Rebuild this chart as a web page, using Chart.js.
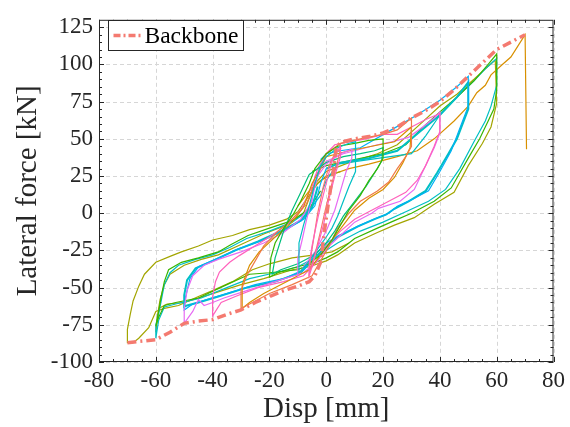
<!DOCTYPE html>
<html>
<head>
<meta charset="utf-8">
<script src="https://cdn.jsdelivr.net/npm/chart.js@4.4.0/dist/chart.umd.min.js"></script>
<style>
  body { margin: 0; background: #fff; }
  canvas { display: block; }
</style>
</head>
<body>
<canvas id="hyst" width="570" height="427"></canvas>
<script>
// Backbone curve (envelope) [disp mm, force kN]
const backbone = [[-70,-87],[-60,-85],[-55,-80],[-50,-74],[-45,-72.5],[-40,-71.5],[-35,-68],[-30,-65],[-25,-60],[-20,-56],[-15,-52],[-10,-49],[-6,-46],[-4,-42],[-2,-33],[-0.5,-10],[1,10],[2.3,26],[3.5,44],[5,47.5],[10,50],[15,51.5],[20,54],[25,58],[30,64],[35,69],[40,75],[45,83],[50,92],[55,101],[60,110],[65,115],[70,120]];

// Hysteresis cycles, by amplitude
const cyc5a = [[-2,5],[0,20],[2,35],[4,42],[5,45],[5,38],[3,25],[1,10],[-1,-8],[-3,-22],[-5,-36],[-6,-42],[-6,-34],[-5,-22],[-3.5,-8],[-2,5]];
const cyc5b = [[-3,0],[-1,18],[1,32],[3,40],[5,43],[4,35],[2,20],[0,5],[-2,-12],[-4,-28],[-6,-40],[-5.5,-30],[-4.5,-18],[-3,0]];
const cyc10a = [[-4,20],[-2,32],[0,38],[4,44],[8,47],[10.3,48],[10.3,28],[8,18],[6,8],[4,-2],[2,-10],[0,-16],[-3,-24],[-6,-32],[-9,-39],[-9.6,-40],[-9.6,-20],[-8,-8],[-6,5],[-4,20]];
const cyc10b = [[-5,10],[-3,25],[0,33],[5,40],[9,43],[9,37],[7,28],[5,15],[3,2],[0,-12],[-4,-26],[-8,-36],[-10,-42],[-10,-30],[-8.5,-18],[-7,-5],[-5,10]];
const cyc20a = [[-6,20],[-4,30],[0,40],[4,45],[10,47],[15,49],[20,50],[20,37],[18,30],[15,22],[12,12],[8,2],[5,-8],[2,-18],[-2,-28],[-6,-34],[-12,-37],[-17,-40],[-20,-43],[-19.5,-30],[-18,-20],[-15,-10],[-12,-2],[-9,8],[-6,20]];
const cyc20b = [[-6,26],[-3,30],[0,34],[6,38],[12,40],[17,42],[20,44],[19.5,35],[17,27],[14,18],[10,8],[6,-2],[3,-12],[0,-20],[-4,-28],[-10,-34],[-16,-38],[-19,-41],[-18,-30],[-15,-12],[-12,2],[-9,14],[-6,26]];
const cyc30a = [[-3,25],[0,40],[5,47],[12,50],[20,53],[25,56],[30,64],[30,45],[28,38],[25,30],[22,21],[18,15],[12,8],[8,0],[4,-10],[1,-22],[-2,-32],[-5,-42],[-12,-48],[-20,-54],[-26,-60],[-30,-64],[-30,-52],[-28,-42],[-25,-32],[-22,-22],[-17,-12],[-12,-4],[-7,6],[-3,25]];
const cyc30b = [[-5,20],[-2,30],[0,38],[8,42],[16,45],[24,48],[30,58],[29.5,44],[27,34],[24,24],[20,16],[15,10],[10,2],[6,-8],[2,-18],[-2,-28],[-6,-38],[-14,-46],[-22,-54],[-27,-60],[-29.6,-64],[-29.6,-48],[-27,-35],[-23.6,-26],[-18,-16],[-12,-6],[-8,4],[-5,20]];
const cyc40a = [[-3,30],[0,40],[3,46],[8,48],[14,50],[20,53],[25,53],[30,58],[35,63],[40,67],[40,55],[38,45],[35,32],[32,22],[28,14],[22,8],[16,2],[10,-4],[5,-12],[0,-22],[-4,-34],[-8,-42],[-15,-46],[-24,-50],[-32,-56],[-37,-60],[-40,-69],[-40,-56],[-39,-46],[-37.6,-39.5],[-34,-33],[-30.6,-28.5],[-26,-23],[-20,-16],[-14,-8],[-9,2],[-5,18],[-3,30]];
const cyc40b = [[-4,25],[0,35],[6,40],[12,43],[18,46],[23,48],[29,51],[34,58],[38,64],[40,68],[40,54],[38,44],[35,32],[31,16],[26,8],[18.4,3.3],[16,0],[10,-6],[4.4,-16],[0,-24],[-3,-32],[-8,-40],[-18,-46],[-28,-52],[-36,-57],[-40,-60],[-43,-62],[-45,-58],[-47,-66],[-50,-74],[-50,-64],[-49,-52],[-47,-42],[-43,-35],[-38,-31],[-30,-26],[-22,-20],[-15,-13],[-9,-4],[-5,8],[-4,25]];
const cyc50a = [[-2,36],[0,40],[5,42],[12,44],[22,55],[32,66],[40,76],[46,85],[50,92],[50,72],[48,62],[46,52],[44,42],[40,28],[36,15],[30,9],[25,4.6],[22,0],[18,-3],[12,-8],[4.4,-15],[0,-20],[-4,-28],[-8,-38],[-15,-44],[-25,-48],[-35,-54],[-42,-58],[-47,-61],[-50,-65],[-49.6,-57],[-48,-44],[-45,-36],[-39,-31],[-31,-24],[-22,-18],[-14,-11],[-8,-4],[-4,5],[-2,20],[0,30]];
const cyc50b = [[0,30],[5,34],[15,37],[25,42],[33,55],[40,66],[46,78],[50,88],[50,70],[48,60],[46,50],[43,40],[39,27],[35,15],[29,8],[24,3],[21,-1],[17,-4],[11,-9],[4,-16],[0,-22],[-4,-30],[-9,-40],[-18,-46],[-28,-50],[-38,-56],[-45,-60],[-49,-62],[-50,-63],[-50,-55],[-49,-45],[-46,-37],[-40,-32],[-32,-25],[-24,-19],[-16,-12],[-9,-5],[-5,4],[-3,18]];
const cyc60a = [[-5,28],[0,32],[10,36],[20,40],[28,46],[33,56],[40,68],[46,78],[52,89],[57,100],[60,107],[60,83],[59,70],[57,62],[54,50],[50,37],[44,17],[38,8],[30,0],[24,-5],[18,-10],[10,-17],[4,-26],[0,-30],[-5,-34],[-10,-38],[-20,-40],[-27,-41],[-35,-48],[-45,-57],[-53,-60],[-57,-62],[-59,-70],[-60,-76],[-59,-66],[-58,-55],[-57,-46],[-55.5,-38],[-51,-33],[-45,-30],[-38,-26],[-33.5,-21],[-27.5,-15],[-20,-10],[-12,-5],[-6,3],[-2,15]];
const cyc60b = [[-2,12],[0,22],[4,33],[15,36],[30,40],[35,52],[40,66],[45,76],[52,89],[56,97],[60,104],[60,86],[58,72],[56,62],[52,48],[47,30],[42,16],[36,8],[28,1],[20,-6],[12,-12],[4,-20],[-4,-30],[-10,-36],[-18,-40],[-27,-44],[-35,-50],[-44,-57],[-53,-61],[-57,-63],[-59,-72],[-60,-84],[-60,-75],[-59,-68],[-58,-58],[-57,-48],[-55,-40],[-52,-35],[-46,-31],[-40,-28],[-34,-23],[-28,-17],[-20,-12],[-12,-6],[-6,2],[-2,12]];
const cyc60c = [[-4,20],[0,28],[8,34],[18,40],[25,46],[32,58],[40,72],[46,80],[52,90],[56,97],[59.5,103],[60,74],[58,58],[55,47],[50,32],[45,14],[38,6],[31,-3],[24,-8],[18,-13],[10,-20],[4,-28],[0,-32],[-6,-36],[-12,-38],[-22,-44],[-30,-48],[-40,-54],[-50,-60],[-56,-61],[-59,-64],[-60,-80],[-59.5,-70],[-58.5,-58],[-57,-48],[-55,-41],[-50,-35],[-44,-31],[-38,-28],[-30,-21],[-22,-14],[-14,-8],[-8,0],[-4,20]];
const cyc70a = [[8,-20],[2,-26],[-4,-28],[-12,-30],[-20,-34],[-26,-38],[-33,-46],[-40,-52],[-45,-56],[-52,-62],[-57,-64],[-60,-66],[-62.5,-77],[-66,-84],[-68,-87],[-70,-87],[-70,-78],[-69,-68],[-68,-59],[-66,-49],[-64,-41],[-60,-33],[-55,-29],[-51,-26],[-45,-22],[-40,-18],[-33,-15],[-27,-11],[-20,-8],[-14,-4],[-10,1],[-6,12],[-3,20],[0,25],[5,28]];
const cyc70b = [[-10,5],[-6,15],[-2,22],[2,26],[8,30],[15,33],[25,38],[32,42],[38,50],[45,62],[50,72],[53,81],[56,86],[58,93],[62,100],[65,105],[68,114],[70,120],[70.5,43]];

const cycles = [
  { data: cyc5a, color: "#FF62BC" },
  { data: cyc5b, color: "#F8766D" },
  { data: cyc10a, color: "#00BFC4" },
  { data: cyc10b, color: "#E76BF3" },
  { data: cyc20a, color: "#39B600" },
  { data: cyc20b, color: "#00BF7D" },
  { data: cyc30a, color: "#F07A45" },
  { data: cyc30b, color: "#D89000" },
  { data: cyc40a, color: "#FF62BC" },
  { data: cyc40b, color: "#E76BF3" },
  { data: cyc50a, color: "#00B0F6" },
  { data: cyc50b, color: "#00BFC4", width: 2 },
  { data: cyc60a, color: "#39B600" },
  { data: cyc60b, color: "#00BFC4" },
  { data: cyc60c, color: "#A3A500" },
  { data: cyc70a, color: "#A3A500" },
  { data: cyc70b, color: "#D89000" },
];

const xTicks = [-80, -60, -40, -20, 0, 20, 40, 60, 80];
const yTicks = [-100, -75, -50, -25, 0, 25, 50, 75, 100, 125];

const FONT = "'Liberation Serif', 'Times New Roman', serif";
const INK = "#262626";

const toXY = (arr) => arr.map((p) => ({ x: p[0], y: p[1] }));

const datasets = [
  {
    label: "Backbone",
    data: toXY(backbone),
    borderColor: "#F47A70",
    borderWidth: 3.5,
    borderDash: [9, 4, 2, 4],
    showLine: true,
    pointRadius: 0,
    tension: 0,
  },
];
cycles.forEach((c, i) => {
  datasets.push({
    label: "cycle " + (i + 1),
    data: toXY(c.data),
    borderColor: c.color,
    borderWidth: c.width || 1.2,
    showLine: true,
    pointRadius: 0,
    tension: 0,
  });
});

// dashed grid under the data
const gridPlugin = {
  id: "dashgrid",
  beforeDatasetsDraw(chart) {
    const { ctx, chartArea: a, scales } = chart;
    ctx.save();
    ctx.strokeStyle = "#d6d6d6";
    ctx.lineWidth = 1;
    ctx.setLineDash([4, 3]);
    ctx.beginPath();
    xTicks.forEach((v) => {
      const px = Math.round(scales.x.getPixelForValue(v)) + 0.5;
      ctx.moveTo(px, a.top); ctx.lineTo(px, a.bottom);
    });
    yTicks.forEach((v) => {
      const py = Math.round(scales.y.getPixelForValue(v)) + 0.5;
      ctx.moveTo(a.left, py); ctx.lineTo(a.right, py);
    });
    ctx.stroke();
    ctx.restore();
  },
};

// axes box with inward major/minor ticks + boxed legend
const framePlugin = {
  id: "frame",
  afterDraw(chart) {
    const { ctx, chartArea: a, scales } = chart;
    const sx = scales.x, sy = scales.y;
    ctx.save();
    ctx.strokeStyle = INK;
    ctx.lineWidth = 1;
    ctx.setLineDash([]);
    ctx.strokeRect(a.left + 0.5, a.top + 0.5, a.right - a.left - 1, a.bottom - a.top - 1);
    ctx.beginPath();
    for (let v = -80; v <= 80; v += 5) {
      const px = Math.round(sx.getPixelForValue(v)) + 0.5;
      const len = v % 20 === 0 ? 5 : 3;
      ctx.moveTo(px, a.bottom); ctx.lineTo(px, a.bottom - len);
      ctx.moveTo(px, a.top); ctx.lineTo(px, a.top + len);
    }
    for (let v = -100; v <= 125; v += 5) {
      const py = Math.round(sy.getPixelForValue(v)) + 0.5;
      const len = v % 25 === 0 ? 5 : 3;
      ctx.moveTo(a.left, py); ctx.lineTo(a.left + len, py);
      ctx.moveTo(a.right, py); ctx.lineTo(a.right - len, py);
    }
    ctx.stroke();

    // legend
    const bx = 108.5, by = 20.5, bw = 135, bh = 30;
    ctx.fillStyle = "#fff";
    ctx.fillRect(bx, by, bw, bh);
    ctx.strokeRect(bx, by, bw, bh);
    const ds = chart.data.datasets[0];
    ctx.strokeStyle = ds.borderColor;
    ctx.lineWidth = ds.borderWidth;
    ctx.setLineDash([7, 3, 2, 3]);
    ctx.beginPath();
    ctx.moveTo(bx + 5, by + bh / 2);
    ctx.lineTo(bx + 35, by + bh / 2);
    ctx.stroke();
    ctx.setLineDash([]);
    ctx.fillStyle = "#000";
    ctx.font = "23.5px " + FONT;
    ctx.textBaseline = "middle";
    ctx.fillText(ds.label, bx + 36, by + bh / 2 + 1);
    ctx.restore();
  },
};

new Chart(document.getElementById("hyst").getContext("2d"), {
  type: "scatter",
  data: { datasets },
  options: {
    responsive: false,
    animation: false,
    layout: { padding: { top: 13, right: 14, left: 0, bottom: 0 } },
    plugins: { legend: { display: false }, tooltip: { enabled: false } },
    scales: {
      x: {
        min: -80,
        max: 80,
        afterBuildTicks: (s) => { s.ticks = xTicks.map((v) => ({ value: v })); },
        afterFit: (s) => { s.height = 65; },
        ticks: { font: { family: FONT, size: 23 }, color: INK, padding: 5, maxRotation: 0 },
        grid: { display: false, drawTicks: false },
        border: { display: false },
        title: { display: true, text: "Disp [mm]", font: { family: FONT, size: 29 }, color: INK, padding: { top: 0, bottom: 0 } },
      },
      y: {
        min: -100,
        max: 130,
        afterBuildTicks: (s) => { s.ticks = yTicks.map((v) => ({ value: v })); },
        afterFit: (s) => { s.width = 99; },
        ticks: { font: { family: FONT, size: 23 }, color: INK, padding: 6 },
        grid: { display: false, drawTicks: false },
        border: { display: false },
        title: { display: true, text: "Lateral force [kN]", font: { family: FONT, size: 29 }, color: INK, padding: { top: 11, bottom: 0 } },
      },
    },
  },
  plugins: [gridPlugin, framePlugin],
});
</script>
</body>
</html>
